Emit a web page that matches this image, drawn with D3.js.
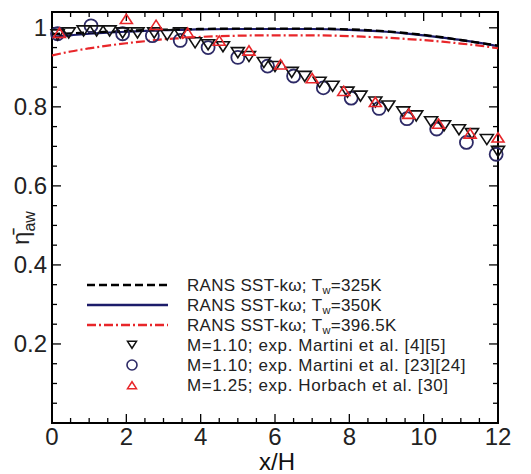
<!DOCTYPE html>
<html>
<head>
<meta charset="utf-8">
<script src="https://cdn.jsdelivr.net/npm/d3@7"></script>
<style>
  body { margin: 0; background: #fff; }
  text { font-family: "Liberation Sans", Arial, sans-serif; }
</style>
</head>
<body>
<div id="graph"></div>
<script>
//Tick labels
const xTicks = [0, 2, 4, 6, 8, 10, 12];
const yTicks = [0.2, 0.4, 0.6, 0.8, 1];

//RANS curves
const curveX = [0, 0.5, 1, 1.5, 2, 2.5, 3, 3.5, 4, 5, 6, 7, 8, 8.5, 9, 9.5, 10, 10.5, 11, 11.5, 12];
const rans325 = [0.984, 0.986, 0.988, 0.990, 0.992, 0.994, 0.995, 0.996, 0.997, 0.998, 0.998, 0.998, 0.996, 0.994, 0.991, 0.987, 0.982, 0.976, 0.969, 0.962, 0.955];
const rans350 = [0.977, 0.981, 0.985, 0.988, 0.990, 0.992, 0.994, 0.995, 0.996, 0.997, 0.997, 0.997, 0.995, 0.993, 0.990, 0.986, 0.981, 0.975, 0.969, 0.962, 0.954];
const rans396 = [0.930, 0.940, 0.948, 0.955, 0.961, 0.966, 0.971, 0.974, 0.977, 0.980, 0.981, 0.981, 0.979, 0.977, 0.975, 0.972, 0.969, 0.965, 0.960, 0.955, 0.948];

//Experiments: Martini et al. [4][5] (down triangles)
const martini45X = [0.15, 0.45, 0.85, 1.2, 1.55, 1.9, 2.3, 2.75, 3.1, 3.45, 3.85, 4.2, 4.6, 5.0, 5.3, 5.7, 6.0, 6.45, 6.8, 7.2, 7.55, 7.95, 8.3, 8.7, 9.05, 9.45, 9.8, 10.2, 10.55, 10.95, 11.3, 11.7, 12.0];
const martini45Y = [0.985, 0.99, 0.995, 0.995, 0.995, 0.99, 0.99, 0.99, 0.985, 0.99, 0.965, 0.96, 0.955, 0.94, 0.93, 0.915, 0.905, 0.89, 0.88, 0.865, 0.855, 0.84, 0.83, 0.815, 0.805, 0.79, 0.78, 0.765, 0.755, 0.745, 0.735, 0.72, 0.69];

//Experiments: Martini et al. [23][24] (circles)
const martini2324X = [0.15, 1.05, 1.9, 2.7, 3.45, 4.2, 5.0, 5.8, 6.5, 7.3, 8.05, 8.8, 9.55, 10.35, 11.15, 11.95];
const martini2324Y = [0.985, 1.005, 0.985, 0.98, 0.968, 0.95, 0.925, 0.903, 0.878, 0.848, 0.822, 0.796, 0.77, 0.744, 0.71, 0.68];

//Experiments: Horbach et al. [30] (up triangles)
const horbachX = [0.2, 2.0, 2.8, 3.65, 4.5, 5.3, 6.15, 7.0, 7.85, 8.7, 9.6, 10.4, 11.25, 12.0];
const horbachY = [0.985, 1.02, 1.005, 0.985, 0.965, 0.94, 0.905, 0.87, 0.838, 0.81, 0.78, 0.755, 0.73, 0.72];

//Display specifications
const W = 531, H = 474;
const plot = {left: 52, right: 498, top: 12, bottom: 423};

const svg = d3.select("#graph").append("svg")
  .attr("width", W).attr("height", H);

const x = d3.scaleLinear().domain([0, 12]).range([plot.left, plot.right]);
const y = d3.scaleLinear().domain([0, 1.04]).range([plot.bottom, plot.top]);

//Frame
svg.append("rect")
  .attr("x", plot.left).attr("y", plot.top)
  .attr("width", plot.right - plot.left).attr("height", plot.bottom - plot.top)
  .attr("fill", "none").attr("stroke", "#000").attr("stroke-width", 2);

//Inward ticks on all four sides
const ticks = svg.append("g").attr("stroke", "#000").attr("stroke-width", 1.3);
x.ticks(24).forEach(function (v) {
  const len = (v % 2 === 0) ? 9 : 5;
  ticks.append("line").attr("x1", x(v)).attr("x2", x(v)).attr("y1", plot.bottom).attr("y2", plot.bottom - len);
  ticks.append("line").attr("x1", x(v)).attr("x2", x(v)).attr("y1", plot.top).attr("y2", plot.top + len);
});
d3.range(0, 21).map(d => d * 0.05).forEach(function (v) {
  const major = Math.abs(v * 5 - Math.round(v * 5)) < 1e-6;
  const len = major ? 9 : 5;
  ticks.append("line").attr("y1", y(v)).attr("y2", y(v)).attr("x1", plot.left).attr("x2", plot.left + len);
  ticks.append("line").attr("y1", y(v)).attr("y2", y(v)).attr("x1", plot.right).attr("x2", plot.right - len);
});

//Tick labels
svg.append("g").selectAll("text").data(xTicks).enter().append("text")
  .attr("x", d => x(d)).attr("y", plot.bottom + 22)
  .attr("text-anchor", "middle").attr("font-size", 24).attr("fill", "#222")
  .text(d => d);
svg.append("g").selectAll("text").data(yTicks).enter().append("text")
  .attr("x", plot.left - 5).attr("y", d => y(d) + 8.5)
  .attr("text-anchor", "end").attr("font-size", 24).attr("fill", "#222")
  .text(d => d);

//Axis titles
svg.append("text")
  .attr("x", (plot.left + plot.right) / 2 + 2).attr("y", 470)
  .attr("text-anchor", "middle").attr("font-size", 24).attr("fill", "#111")
  .text("x/H");
const yl = svg.append("text")
  .attr("transform", "translate(29,228) rotate(-90)")
  .attr("text-anchor", "middle").attr("font-size", 24).attr("fill", "#222");
yl.append("tspan").text("\u03B7\u0304");
yl.append("tspan").attr("font-size", 16).attr("dy", 6).text("aw");

//Curves
const line = d3.line()
  .x((d, i) => x(curveX[i]))
  .y(d => y(d))
  .curve(d3.curveMonotoneX);

const series = [
  {vals: rans396, stroke: "#e8262a", dash: "9,3,2,3", w: 2.2},
  {vals: rans350, stroke: "#1c1c6a", dash: null, w: 2.2},
  {vals: rans325, stroke: "#000", dash: "8,4", w: 2.4}
];
series.forEach(function (s) {
  svg.append("path")
    .attr("d", line(s.vals))
    .attr("fill", "none")
    .attr("stroke", s.stroke)
    .attr("stroke-width", s.w)
    .attr("stroke-dasharray", s.dash);
});

//Markers
function triDown(cx, cy, r) {
  return "M" + (cx - r) + "," + (cy - r * 0.6) + "L" + (cx + r) + "," + (cy - r * 0.6) + "L" + cx + "," + (cy + r * 0.95) + "Z";
}
function triUp(cx, cy, r) {
  return "M" + (cx - r) + "," + (cy + r * 0.6) + "L" + (cx + r) + "," + (cy + r * 0.6) + "L" + cx + "," + (cy - r * 0.95) + "Z";
}

svg.append("g").selectAll("circle").data(martini2324X).enter().append("circle")
  .attr("cx", d => x(d)).attr("cy", (d, i) => y(martini2324Y[i])).attr("r", 6.5)
  .attr("fill", "none").attr("stroke", "#2d2a66").attr("stroke-width", 1.8);

svg.append("g").selectAll("path").data(martini45X).enter().append("path")
  .attr("d", (d, i) => triDown(x(d), y(martini45Y[i]), 6.5))
  .attr("fill", "none").attr("stroke", "#111").attr("stroke-width", 1.6);

svg.append("g").selectAll("path").data(horbachX).enter().append("path")
  .attr("d", (d, i) => triUp(x(d), y(horbachY[i]), 6))
  .attr("fill", "none").attr("stroke", "#e8262a").attr("stroke-width", 1.6);

//Legend
const legend = svg.append("g");
const rows = [
  {label: ["RANS SST-k\u03C9; T", "w", "=325K"], type: "line", stroke: "#000", dash: "8,4"},
  {label: ["RANS SST-k\u03C9; T", "w", "=350K"], type: "line", stroke: "#1c1c6a", dash: null},
  {label: ["RANS SST-k\u03C9; T", "w", "=396.5K"], type: "line", stroke: "#e8262a", dash: "9,3,2,3"},
  {label: ["M=1.10; exp. Martini et al. [4][5]"], type: "down"},
  {label: ["M=1.10; exp. Martini et al. [23][24]"], type: "circle"},
  {label: ["M=1.25; exp. Horbach et al. [30]"], type: "up"}
];
rows.forEach(function (r, i) {
  const cy = 285 + i * 20;
  if (r.type === "line") {
    legend.append("line").attr("x1", 87).attr("x2", 168).attr("y1", cy).attr("y2", cy)
      .attr("stroke", r.stroke).attr("stroke-width", 2.4).attr("stroke-dasharray", r.dash);
  } else if (r.type === "down") {
    legend.append("path").attr("d", triDown(132, cy - 1, 4.5)).attr("fill", "none").attr("stroke", "#111").attr("stroke-width", 1.5);
  } else if (r.type === "circle") {
    legend.append("circle").attr("cx", 132).attr("cy", cy).attr("r", 5).attr("fill", "none").attr("stroke", "#2d2a66").attr("stroke-width", 1.6);
  } else {
    legend.append("path").attr("d", triUp(132, cy + 1, 4.5)).attr("fill", "none").attr("stroke", "#e8262a").attr("stroke-width", 1.5);
  }
  const sub = r.label.length > 1;
  const t = legend.append("text").attr("x", 187).attr("y", cy + 6)
    .attr("font-size", 17).attr("letter-spacing", sub ? 0.3 : 0.6).attr("fill", "#222");
  t.append("tspan").text(r.label[0]);
  if (sub) {
    t.append("tspan").attr("font-size", 11).attr("dy", 3).text(r.label[1]);
    t.append("tspan").attr("dy", -3).text(r.label[2]);
  }
});
</script>
</body>
</html>
